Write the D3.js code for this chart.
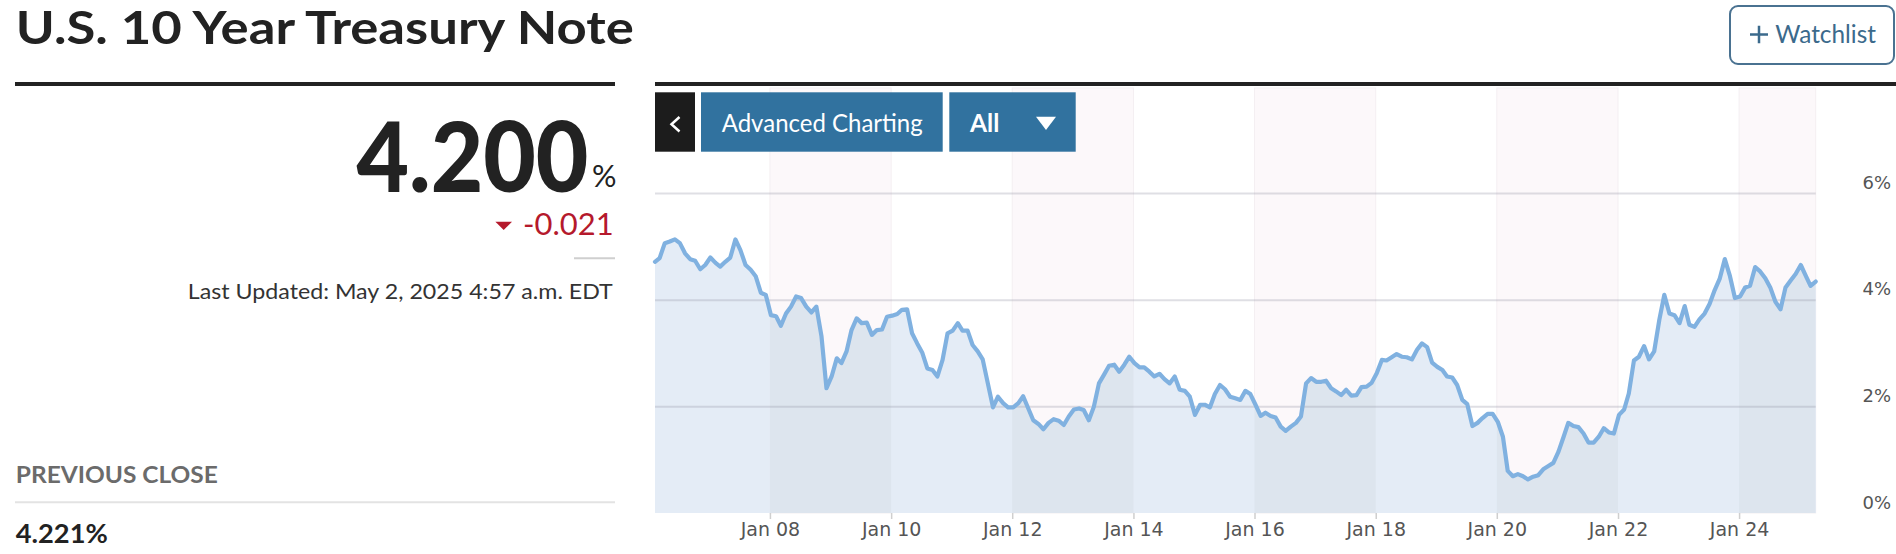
<!DOCTYPE html>
<html>
<head>
<meta charset="utf-8">
<script src="https://cdn.jsdelivr.net/npm/d3@7"></script>
<style>
    html, body { margin: 0; padding: 0; background: #fff; }
    svg { display: block; }
</style>
</head>
<body>
<div id="chart"></div>
<script>
// Monthly 10y yields (%), first point Feb 2006, last point Apr 2025
const firstMonth = [2006, 1];
const yields2006 = [4.71, 4.78, 5.06, 5.09, 5.13, 5.06, 4.87, 4.76, 4.73, 4.57, 4.65];
const yields2007 = [4.79, 4.69, 4.62, 4.71, 4.79, 5.13, 4.93, 4.65, 4.56, 4.44, 4.13, 4.09];
const yields2008 = [3.71, 3.69, 3.51, 3.74, 3.87, 4.06, 4.03, 3.87, 3.76, 3.87, 3.31, 2.34];
const yields2009 = [2.56, 2.90, 2.81, 3.03, 3.43, 3.65, 3.56, 3.57, 3.34, 3.43, 3.44, 3.68];
const yields2010 = [3.70, 3.73, 3.81, 3.82, 3.37, 3.18, 3.01, 2.71, 2.68, 2.56, 2.87, 3.37];
const yields2011 = [3.42, 3.56, 3.42, 3.42, 3.15, 3.03, 2.88, 2.43, 1.98, 2.18, 2.06, 1.98];
const yields2012 = [1.98, 2.06, 2.19, 1.96, 1.74, 1.67, 1.57, 1.69, 1.76, 1.73, 1.65, 1.81];
const yields2013 = [1.94, 1.96, 1.93, 1.74, 1.99, 2.43, 2.59, 2.76, 2.78, 2.65, 2.78, 2.93];
const yields2014 = [2.81, 2.73, 2.73, 2.65, 2.56, 2.61, 2.51, 2.43, 2.56, 2.31, 2.29, 2.18];
const yields2015 = [1.84, 2.03, 2.03, 1.98, 2.23, 2.40, 2.32, 2.18, 2.15, 2.12, 2.29, 2.23];
const yields2016 = [2.03, 1.82, 1.88, 1.82, 1.79, 1.62, 1.54, 1.62, 1.69, 1.81, 2.43, 2.53];
const yields2017 = [2.46, 2.46, 2.48, 2.34, 2.28, 2.21, 2.31, 2.20, 2.21, 2.36, 2.37, 2.44];
const yields2018 = [2.62, 2.87, 2.86, 2.92, 2.98, 2.93, 2.92, 2.88, 3.06, 3.18, 3.11, 2.82];
const yields2019 = [2.74, 2.68, 2.56, 2.54, 2.40, 2.12, 2.04, 1.63, 1.69, 1.78, 1.86, 1.86];
const yields2020 = [1.71, 1.43, 0.79, 0.69, 0.73, 0.69, 0.63, 0.68, 0.71, 0.82, 0.88, 0.94];
const yields2021 = [1.15, 1.43, 1.69, 1.63, 1.61, 1.49, 1.32, 1.32, 1.43, 1.59, 1.51, 1.49];
const yields2022 = [1.84, 1.94, 2.24, 2.86, 2.93, 3.13, 2.88, 3.03, 3.62, 4.09, 3.74, 3.71];
const yields2023 = [3.56, 3.88, 3.53, 3.49, 3.63, 3.74, 3.92, 4.18, 4.40, 4.76, 4.44, 4.03];
const yields2024 = [4.06, 4.23, 4.26, 4.61, 4.53, 4.40, 4.23, 3.96, 3.82, 4.23, 4.36, 4.48];
const yields2025 = [4.65, 4.44, 4.26, 4.34];

const xTickYears = [2008, 2010, 2012, 2014, 2016, 2018, 2020, 2022, 2024];
const xTickLabels = ['Jan 08', 'Jan 10', 'Jan 12', 'Jan 14', 'Jan 16', 'Jan 18', 'Jan 20', 'Jan 22', 'Jan 24'];
const yTicks = [0, 2, 4, 6];
const yTickLabels = ['0%', '2%', '4%', '6%'];
const bandYears = [2008, 2012, 2016, 2020, 2024];

const values = [].concat(yields2006, yields2007, yields2008, yields2009, yields2010, yields2011,
    yields2012, yields2013, yields2014, yields2015, yields2016, yields2017, yields2018,
    yields2019, yields2020, yields2021, yields2022, yields2023, yields2024, yields2025);
const data = values.map((v, i) => ({ date: new Date(firstMonth[0], firstMonth[1] + i, 7), value: v }));

const W = 1896, H = 554;
const plot = { left: 655, right: 1815.7, top: 88, bottom: 513 };
const font = 'Lato, "Open Sans", sans-serif';
const axisFont = '"DejaVu Sans", Verdana, sans-serif';

const svg = d3.select('#chart').append('svg')
    .attr('width', W).attr('height', H)
    .attr('viewBox', `0 0 ${W} ${H}`);

svg.append('rect').attr('width', W).attr('height', H).attr('fill', '#fff');

const x = d3.scaleTime()
    .domain(d3.extent(data, d => d.date))
    .range([plot.left, plot.right]);
const y = d3.scaleLinear().domain([0, 6]).range([plot.bottom, 193]);

// squeeze a text horizontally so it spans `width` px starting at (x0, y0)
function squeezeText(sel, x0, y0, width) {
    const len = sel.node().getComputedTextLength();
    sel.attr('x', 0).attr('y', 0)
        .attr('transform', `translate(${x0},${y0}) scale(${width / len},1)`);
}

// ---- left info panel ----
const left = svg.append('g');
left.append('text')
    .attr('x', 15.8).attr('y', 43.5)
    .attr('textLength', 618).attr('lengthAdjust', 'spacingAndGlyphs')
    .style('font', `700 46px ${font}`).attr('fill', '#222')
    .text('U.S. 10 Year Treasury Note');
left.append('rect').attr('x', 15).attr('y', 82).attr('width', 600).attr('height', 4).attr('fill', '#222');

const bigQuote = left.append('text')
    .style('font', `900 98px ${font}`).attr('fill', '#222')
    .text('4.200');
squeezeText(bigQuote, 356.5, 191.7, 232);
left.append('text')
    .attr('x', 592).attr('y', 186.7)
    .attr('textLength', 24.5).attr('lengthAdjust', 'spacingAndGlyphs')
    .style('font', `400 30px ${font}`).attr('fill', '#222')
    .text('%');

left.append('path')
    .attr('d', 'M495.4,221.7 L512,221.7 L503.7,230 Z')
    .attr('fill', '#b5192c');
left.append('text')
    .attr('x', 523).attr('y', 235)
    .attr('textLength', 90.6).attr('lengthAdjust', 'spacingAndGlyphs')
    .style('font', `400 30px ${font}`).attr('fill', '#b5192c')
    .text('-0.021');
left.append('line')
    .attr('x1', 574).attr('x2', 615).attr('y1', 258.3).attr('y2', 258.3)
    .attr('stroke', '#cfcfcf').attr('stroke-width', 2);

left.append('text')
    .attr('x', 612.8).attr('y', 299).attr('text-anchor', 'end')
    .attr('textLength', 425).attr('lengthAdjust', 'spacingAndGlyphs')
    .style('font', `400 22px ${font}`).attr('fill', '#333')
    .text('Last Updated: May 2, 2025 4:57 a.m. EDT');

left.append('text')
    .attr('x', 15.8).attr('y', 482.7)
    .attr('textLength', 202).attr('lengthAdjust', 'spacingAndGlyphs')
    .style('font', `700 22px ${font}`).attr('fill', '#6b6b6b')
    .text('PREVIOUS CLOSE');
left.append('line')
    .attr('x1', 15).attr('x2', 615).attr('y1', 502.3).attr('y2', 502.3)
    .attr('stroke', '#e3e3e3').attr('stroke-width', 2);
left.append('text')
    .attr('x', 15.8).attr('y', 543.3)
    .attr('textLength', 92).attr('lengthAdjust', 'spacingAndGlyphs')
    .style('font', `700 26px ${font}`).attr('fill', '#222')
    .text('4.221%');

// ---- watchlist button ----
const watch = svg.append('g');
watch.append('rect')
    .attr('x', 1730).attr('y', 6).attr('width', 164).attr('height', 58).attr('rx', 8)
    .attr('fill', '#fff').attr('stroke', '#4a7291').attr('stroke-width', 2);
watch.append('path')
    .attr('d', 'M1750,34.5 L1768,34.5 M1759,25.7 L1759,43.3')
    .attr('stroke', '#3b6a8c').attr('stroke-width', 2.5);
watch.append('text')
    .attr('x', 1775.3).attr('y', 43.3)
    .attr('textLength', 100.7).attr('lengthAdjust', 'spacingAndGlyphs')
    .style('font', `400 24.5px ${font}`).attr('fill', '#3b6a8c')
    .text('Watchlist');

// ---- chart ----
svg.append('rect').attr('x', plot.left).attr('y', 82).attr('width', W - plot.left).attr('height', 4).attr('fill', '#222');

const bandEnd = yr => Math.min(x(new Date(yr + 2, 0, 1)), plot.right);

// pink bands in the background
svg.append('g').selectAll('rect')
    .data(bandYears)
    .enter().append('rect')
    .attr('x', d => x(new Date(d, 0, 1)))
    .attr('y', plot.top)
    .attr('width', d => bandEnd(d) - x(new Date(d, 0, 1)))
    .attr('height', plot.bottom - plot.top)
    .attr('fill', '#fcf8fa')
    .attr('stroke', '#f4eff2')
    .attr('stroke-width', 1);

const area = d3.area()
    .x(d => x(d.date))
    .y0(y(0))
    .y1(d => y(d.value));
const line = d3.line()
    .x(d => x(d.date))
    .y(d => y(d.value));

svg.append('clipPath').attr('id', 'area-clip')
    .append('path').attr('d', area(data));

svg.append('path')
    .attr('d', area(data))
    .attr('fill', '#e4ecf6');

// darker shade of the area inside the bands
svg.append('g').attr('clip-path', 'url(#area-clip)')
    .selectAll('rect')
    .data(bandYears)
    .enter().append('rect')
    .attr('x', d => x(new Date(d, 0, 1)))
    .attr('y', plot.top)
    .attr('width', d => bandEnd(d) - x(new Date(d, 0, 1)))
    .attr('height', plot.bottom - plot.top)
    .attr('fill', '#dde5ee');

// gridlines
const grid = svg.append('g')
    .attr('transform', `translate(${plot.left},0)`)
    .call(d3.axisRight(y).tickValues(yTicks.slice(1)).tickSize(plot.right - plot.left).tickFormat(''));
grid.select('.domain').remove();
grid.selectAll('line').attr('stroke', 'rgba(150,150,165,0.3)').attr('stroke-width', 2);

svg.append('path')
    .attr('d', line(data))
    .attr('fill', 'none')
    .attr('stroke', '#80b1e0')
    .attr('stroke-width', 4.2)
    .attr('stroke-linejoin', 'round')
    .attr('stroke-linecap', 'round');

// x axis
const xAxis = svg.append('g')
    .attr('transform', `translate(0,${plot.bottom})`)
    .call(d3.axisBottom(x)
        .tickValues(xTickYears.map(yr => new Date(yr, 0, 1)))
        .tickFormat((d, i) => xTickLabels[i])
        .tickSize(6).tickPadding(4));
xAxis.select('.domain').remove();
xAxis.selectAll('line').attr('stroke', '#cfcfcf').attr('stroke-width', 1.5);
xAxis.selectAll('text')
    .style('font', `400 19px ${axisFont}`)
    .attr('fill', '#555');

// y axis labels on the right
const yAxis = svg.append('g')
    .attr('transform', `translate(${plot.right},0)`)
    .call(d3.axisRight(y).tickValues(yTicks).tickSize(0).tickFormat((d, i) => yTickLabels[i]));
yAxis.select('.domain').remove();
yAxis.selectAll('text')
    .attr('x', 1891 - plot.right)
    .attr('dy', -5)
    .attr('text-anchor', 'end')
    .style('font', `400 18px ${axisFont}`)
    .attr('fill', '#555');

// ---- chart buttons ----
const btns = svg.append('g');
btns.append('rect').attr('x', 655).attr('y', 92.3).attr('width', 40).attr('height', 59.4).attr('fill', '#1c1c1c');
btns.append('path')
    .attr('d', 'M679.5,117 L671.5,124.3 L679.5,131.5')
    .attr('fill', 'none').attr('stroke', '#fff').attr('stroke-width', 2.5);
btns.append('rect').attr('x', 701).attr('y', 92.3).attr('width', 241.7).attr('height', 59.4).attr('fill', '#31729f');
btns.append('text')
    .attr('x', 721.7).attr('y', 132.3)
    .attr('textLength', 201).attr('lengthAdjust', 'spacingAndGlyphs')
    .style('font', `400 25px ${font}`).attr('fill', '#fff')
    .text('Advanced Charting');
btns.append('rect').attr('x', 949.3).attr('y', 92.3).attr('width', 126.4).attr('height', 59.4).attr('fill', '#31729f');
btns.append('text')
    .attr('x', 970).attr('y', 132.3)
    .attr('textLength', 29.3).attr('lengthAdjust', 'spacingAndGlyphs')
    .style('font', `700 25px ${font}`).attr('fill', '#fff')
    .text('All');
btns.append('path')
    .attr('d', 'M1036,116.7 L1056,116.7 L1046,130 Z')
    .attr('fill', '#fff');
</script>
</body>
</html>
